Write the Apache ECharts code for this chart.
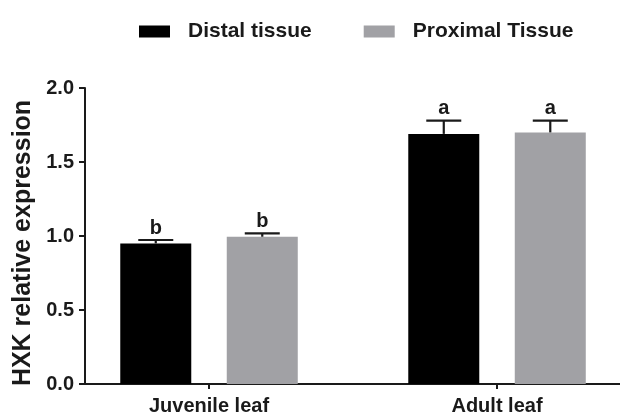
<!DOCTYPE html>
<html>
<head>
<meta charset="utf-8">
<script src="https://cdn.jsdelivr.net/npm/echarts@6/dist/echarts.min.js"></script>
<style>
  html, body { margin: 0; padding: 0; background: #fff; }
  #chart { width: 620px; height: 419px; }
</style>
</head>
<body>
<div id="chart"></div>
<script>
// Leaf stage groups and their positions on the x scale
const categories = ['Juvenile leaf', 'Adult leaf'];
const categoryPos = [0, 1];

// Mean HXK relative expression
const distalMeans = [0.95, 1.69];
const proximalMeans = [0.995, 1.70];

// Upper error (mean + SE)
const distalUpper = [0.973, 1.78];
const proximalUpper = [1.018, 1.78];

// Significance letters
const distalLetters = ['b', 'a'];
const proximalLetters = ['b', 'a'];

const FONT = 'Liberation Sans, Arial, sans-serif';
const INK = '#1a1a1a';
const BAR_W = 71;
const BAR_GAP = 0.5;
const OFFSET = (BAR_W * 2 + BAR_W * BAR_GAP) / 2 - BAR_W / 2;

function errorSeries(name, means, upper, letters, dx) {
  return {
    type: 'custom',
    name: name + ' error',
    z: 5,
    silent: true,
    data: categoryPos.map((x, i) => [x, means[i], upper[i]]),
    renderItem: function (params, api) {
      const top = api.coord([api.value(0), api.value(2)]);
      const base = api.coord([api.value(0), api.value(1)]);
      const cx = top[0] + dx;
      const half = 17.5;
      const style = { stroke: INK, lineWidth: 2.2 };
      return {
        type: 'group',
        children: [
          { type: 'line', shape: { x1: cx, y1: base[1], x2: cx, y2: top[1] }, style: style },
          { type: 'line', shape: { x1: cx - half, y1: top[1], x2: cx + half, y2: top[1] }, style: style },
          {
            type: 'text',
            style: {
              text: letters[params.dataIndex],
              x: cx, y: top[1] - 2,
              align: 'center', verticalAlign: 'bottom',
              font: 'bold 20px ' + FONT, fill: INK
            }
          }
        ]
      };
    }
  };
}

const chart = echarts.init(document.getElementById('chart'));
chart.setOption({
  backgroundColor: '#fff',
  animation: false,
  legend: {
    top: 16,
    left: 134,
    itemWidth: 31,
    itemHeight: 12,
    itemGap: 52,
    icon: 'rect',
    data: ['Distal tissue', 'Proximal Tissue'],
    textStyle: { fontFamily: FONT, fontWeight: 'bold', fontSize: 21, color: INK, padding: [0, 0, 0, 13] }
  },
  grid: { left: 85, right: 0, top: 88, bottom: 35, containLabel: false },
  xAxis: {
    type: 'value',
    min: -0.4306,
    max: 1.427,
    splitLine: { show: false },
    axisLine: { show: true, onZero: false, lineStyle: { color: INK, width: 2 } },
    axisTick: { show: true, customValues: categoryPos, length: 5, lineStyle: { color: INK, width: 2 } },
    axisLabel: {
      customValues: categoryPos,
      formatter: v => categories[Math.round(v)],
      fontFamily: FONT, fontWeight: 'bold', fontSize: 20, color: INK, margin: 12
    }
  },
  yAxis: {
    type: 'value',
    min: 0,
    max: 2,
    interval: 0.5,
    name: 'HXK relative expression',
    nameLocation: 'middle',
    nameGap: 44,
    nameTextStyle: { fontFamily: FONT, fontWeight: 'bold', fontSize: 25, color: INK, padding: [0, 14, 0, 0] },
    splitLine: { show: false },
    axisLine: { show: true, onZero: false, lineStyle: { color: INK, width: 2 } },
    axisTick: { show: true, length: 6, lineStyle: { color: INK, width: 2 } },
    axisLabel: {
      formatter: v => v.toFixed(1),
      fontFamily: FONT, fontWeight: 'bold', fontSize: 20, color: INK, margin: 11
    }
  },
  series: [
    {
      type: 'bar',
      name: 'Distal tissue',
      barWidth: BAR_W,
      barGap: '50%',
      itemStyle: { color: '#000000' },
      data: categoryPos.map((x, i) => [x, distalMeans[i]])
    },
    {
      type: 'bar',
      name: 'Proximal Tissue',
      barWidth: BAR_W,
      barGap: '50%',
      itemStyle: { color: '#a1a1a5' },
      data: categoryPos.map((x, i) => [x, proximalMeans[i]])
    },
    errorSeries('Distal tissue', distalMeans, distalUpper, distalLetters, -OFFSET),
    errorSeries('Proximal Tissue', proximalMeans, proximalUpper, proximalLetters, OFFSET)
  ]
});
</script>
</body>
</html>
